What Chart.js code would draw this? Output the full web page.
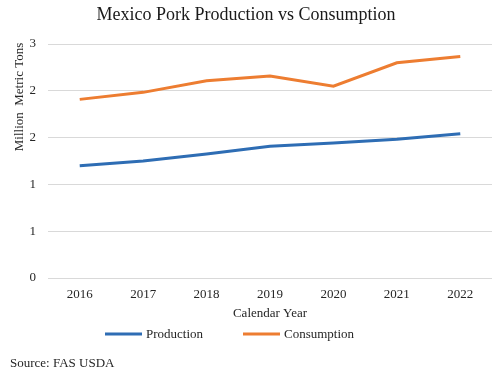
<!DOCTYPE html>
<html>
<head>
<meta charset="utf-8">
<script src="https://cdn.jsdelivr.net/npm/chart.js@4/dist/chart.umd.min.js"></script>
<style>
  html, body { margin: 0; padding: 0; background: #ffffff; }
  #wrap { position: relative; width: 500px; height: 374px; }
  #source { position: absolute; left: 10px; top: 355px; font: 13px "Liberation Serif", "Times New Roman", serif; color: #262626; }
</style>
</head>
<body>
<div id="wrap">
  <canvas id="c" width="500" height="374"></canvas>
  <div id="source">Source: FAS USDA</div>
</div>
<script>
const categories = ['2016', '2017', '2018', '2019', '2020', '2021', '2022'];
const production = [1.44, 1.50, 1.59, 1.69, 1.73, 1.78, 1.85];
const consumption = [2.29, 2.38, 2.53, 2.59, 2.46, 2.76, 2.84];
const yTicks = [0, 0.6, 1.2, 1.8, 2.4, 3.0];

const SERIF = '"Liberation Serif", "Times New Roman", serif';
const BLUE = '#2e6db4';
const ORANGE = '#ed7d31';

const extras = {
  id: 'extras',
  afterDraw(chart) {
    const ctx = chart.ctx;
    const area = chart.chartArea;
    ctx.save();
    ctx.fillStyle = '#262626';
    ctx.font = '13px ' + SERIF;
    ctx.textAlign = 'center';
    ctx.textBaseline = 'middle';
    // x-axis title
    ctx.fillText('Calendar Year', (area.left + area.right) / 2, 314);
    // y-axis title
    ctx.translate(20, 97);
    ctx.rotate(-Math.PI / 2);
    ctx.fillText('Million  Metric Tons', 0, 0);
    ctx.restore();

    // legend
    ctx.save();
    ctx.font = '13px ' + SERIF;
    ctx.textBaseline = 'middle';
    ctx.textAlign = 'left';
    const items = [
      { x0: 105, x1: 142, tx: 146, ds: chart.data.datasets[0] },
      { x0: 243, x1: 280, tx: 284, ds: chart.data.datasets[1] }
    ];
    const y = 334;
    items.forEach(it => {
      ctx.strokeStyle = it.ds.borderColor;
      ctx.lineWidth = 3;
      ctx.beginPath();
      ctx.moveTo(it.x0, y);
      ctx.lineTo(it.x1, y);
      ctx.stroke();
      ctx.fillStyle = '#262626';
      ctx.fillText(it.ds.label, it.tx, y + 1);
    });
    ctx.restore();
  }
};

new Chart(document.getElementById('c'), {
  type: 'line',
  data: {
    labels: categories,
    datasets: [
      { label: 'Production', data: production, borderColor: BLUE, backgroundColor: BLUE, borderWidth: 3, pointRadius: 0, tension: 0, fill: false },
      { label: 'Consumption', data: consumption, borderColor: ORANGE, backgroundColor: ORANGE, borderWidth: 3, pointRadius: 0, tension: 0, fill: false }
    ]
  },
  options: {
    responsive: false,
    animation: false,
    events: [],
    layout: { padding: { top: 0, left: 0, right: 8, bottom: 66 } },
    plugins: {
      legend: { display: false },
      tooltip: { enabled: false },
      title: {
        display: true,
        text: 'Mexico Pork Production vs Consumption',
        color: '#1a1a1a',
        font: { family: SERIF, size: 18, weight: 'normal' },
        padding: { top: 4, bottom: 18.4 }
      }
    },
    scales: {
      x: {
        offset: true,
        afterFit(scale) { scale.height = 30; },
        grid: { display: false, drawTicks: false },
        border: { display: false },
        ticks: { color: '#262626', font: { family: SERIF, size: 13 }, padding: 9, maxRotation: 0 }
      },
      y: {
        min: 0,
        max: 3,
        afterBuildTicks(scale) { scale.ticks = yTicks.map(v => ({ value: v })); },
        afterFit(scale) { scale.width = 48; },
        grid: { color: '#d9d9d9', lineWidth: 1, drawTicks: false },
        border: { display: false },
        ticks: {
          color: '#262626',
          font: { family: SERIF, size: 13 },
          padding: 12,
          callback: v => Math.round(v).toString()
        }
      }
    }
  },
  plugins: [extras]
});
</script>
</body>
</html>
